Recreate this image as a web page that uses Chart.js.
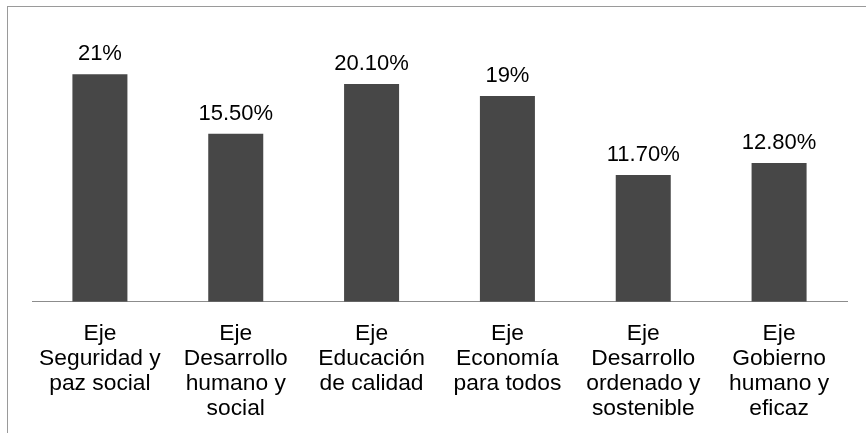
<!DOCTYPE html>
<html>
<head>
<meta charset="utf-8">
<script src="https://cdn.jsdelivr.net/npm/chart.js@4"></script>
<style>
  html, body { margin: 0; padding: 0; background: #fff; }
  #wrap { position: relative; width: 866px; height: 433px; overflow: hidden; }
  #frame { position: absolute; left: 7px; top: 6px; width: 900px; height: 500px;
           border-left: 1px solid #9a9a9a; border-top: 1px solid #9a9a9a; box-sizing: border-box; }
  canvas { position: absolute; left: 0; top: 0; }
</style>
</head>
<body>
<div id="wrap">
  <div id="frame"></div>
  <canvas id="c" width="866" height="455"></canvas>
</div>
<script>
const categories = [
  ["Eje", "Seguridad y", "paz social"],
  ["Eje", "Desarrollo", "humano y", "social"],
  ["Eje", "Educación", "de calidad"],
  ["Eje", "Economía", "para todos"],
  ["Eje", "Desarrollo", "ordenado y", "sostenible"],
  ["Eje", "Gobierno", "humano y", "eficaz"]
];
const values = [21, 15.5, 20.1, 19, 11.7, 12.8];
const valueLabels = ["21%", "15.50%", "20.10%", "19%", "11.70%", "12.80%"];

const FONT = "'Liberation Sans', Arial, sans-serif";

const dataLabelPlugin = {
  id: 'dataLabels',
  afterDatasetsDraw(chart) {
    const ctx = chart.ctx;
    const meta = chart.getDatasetMeta(0);
    ctx.save();
    ctx.font = "22px " + FONT;
    ctx.fillStyle = "#000";
    ctx.textAlign = "center";
    ctx.textBaseline = "alphabetic";
    meta.data.forEach((bar, i) => {
      ctx.fillText(valueLabels[i], bar.x, bar.y - 14);
    });
    ctx.restore();
  }
};

new Chart(document.getElementById('c'), {
  type: 'bar',
  data: {
    labels: categories,
    datasets: [{
      data: values,
      backgroundColor: '#474747',
      borderWidth: 0,
      barPercentage: 0.405,
      categoryPercentage: 1.0
    }]
  },
  options: {
    responsive: false,
    animation: false,
    events: [],
    layout: { padding: { left: 32, right: 19, top: 31, bottom: 15 } },
    plugins: { legend: { display: false }, tooltip: { enabled: false } },
    scales: {
      x: {
        offset: true,
        grid: { display: false, drawTicks: false },
        border: { display: true, color: '#8c8c8c', width: 1 },
        ticks: {
          color: '#000',
          font: { family: FONT, size: 22.8, lineHeight: 1.1 },
          padding: 19,
          maxRotation: 0,
          autoSkip: false
        }
      },
      y: {
        display: false,
        min: 0,
        max: 25
      }
    }
  },
  plugins: [dataLabelPlugin]
});
</script>
</body>
</html>
